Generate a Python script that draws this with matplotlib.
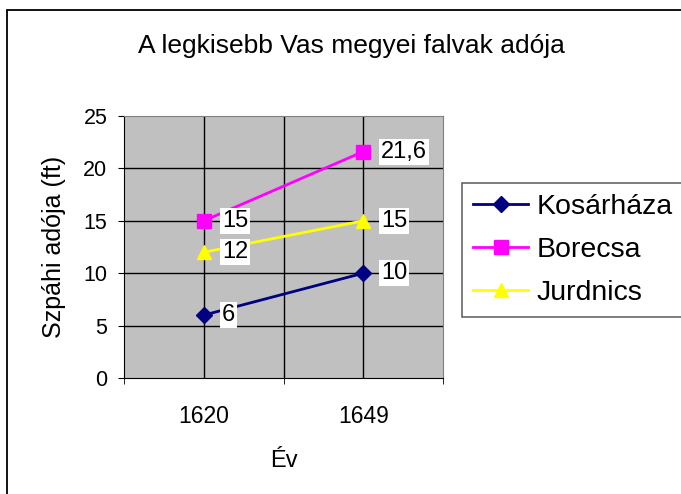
import matplotlib.pyplot as plt
import matplotlib.patches as patches
import numpy as np

plt.rcParams['font.family'] = ['Liberation Sans', 'DejaVu Sans']

years = ['1620', '1649']
kosarhaza = [6, 10]
borecsa = [15, 21.6]
jurdnics = [12, 15]
series_names = ['Kosárháza', 'Borecsa', 'Jurdnics']
point_labels = [['6', '10'], ['15', '21,6'], ['12', '15']]

colors = ['#000080', '#FF00FF', '#FFFF00']
markers = ['D', 's', '^']
msizes = [8, 10, 10]

fig = plt.figure(figsize=(6.81, 4.94), dpi=100)
ax = fig.add_axes([124 / 681, 1 - 378 / 494, 319 / 681, 262 / 494])
ax.set_facecolor('#C0C0C0')

x = np.arange(len(years))
ax.set_xlim(-0.5, 1.5)
ax.set_ylim(0, 25)

# grid lines like Excel
for yv in [5, 10, 15, 20]:
    ax.axhline(yv, color='black', lw=1, zorder=1)
for xv in [0, 0.5, 1]:
    ax.axvline(xv, color='black', lw=1, zorder=1)

for vals, name, c, m, ms, labs in zip([kosarhaza, borecsa, jurdnics], series_names,
                                      colors, markers, msizes, point_labels):
    ax.plot(x, vals, color=c, lw=2, marker=m, markersize=ms, label=name, zorder=3)
    for xi, v, t in zip(x, vals, labs):
        ax.annotate(t, (xi, v), xytext=(13, 0), textcoords='offset points',
                    ha='left', va='center', fontsize=17, zorder=4,
                    bbox=dict(boxstyle='square,pad=0.08', fc='white', ec='none'))

# spines
for s in ['top', 'right']:
    ax.spines[s].set_color('#808080')
ax.spines['left'].set_color('black')
ax.spines['bottom'].set_color('black')

ax.set_yticks([0, 5, 10, 15, 20, 25])
ax.tick_params(axis='y', direction='out', length=4, pad=8, labelsize=15.5)
ax.set_xticks(x)
ax.set_xticklabels(years)
ax.set_xticks([-0.5, 0.5, 1.5], minor=True)
ax.tick_params(axis='x', which='major', length=0, pad=19.5, labelsize=16.5)
ax.tick_params(axis='x', which='minor', direction='out', length=4)

ax.set_ylabel('Szpáhi adója (ft)', fontsize=18)
ax.yaxis.set_label_coords(-0.182, 0.5)
ax.set_xlabel('Év', fontsize=17)
ax.xaxis.set_label_coords(0.5, -0.273)

fig.text(0.516, 1 - 46 / 494, 'A legkisebb Vas megyei falvak adója',
         ha='center', va='center', fontsize=19)

leg = ax.legend(loc='upper left', bbox_to_anchor=(462 / 681, 1 - 183 / 494),
                bbox_transform=fig.transFigure, fontsize=20.5, frameon=True,
                fancybox=False, edgecolor='#404040', handlelength=1.95,
                handletextpad=0.3, labelspacing=0.6, borderpad=0.38,
                borderaxespad=0)
leg.get_frame().set_linewidth(1.2)

fig.patches.append(patches.Rectangle((7 / 681, -0.1), 1.2, 1 - 10 / 494 + 0.1,
                                     transform=fig.transFigure, fill=False,
                                     edgecolor='black', lw=1.3))

fig.savefig('out.png', dpi=100)
